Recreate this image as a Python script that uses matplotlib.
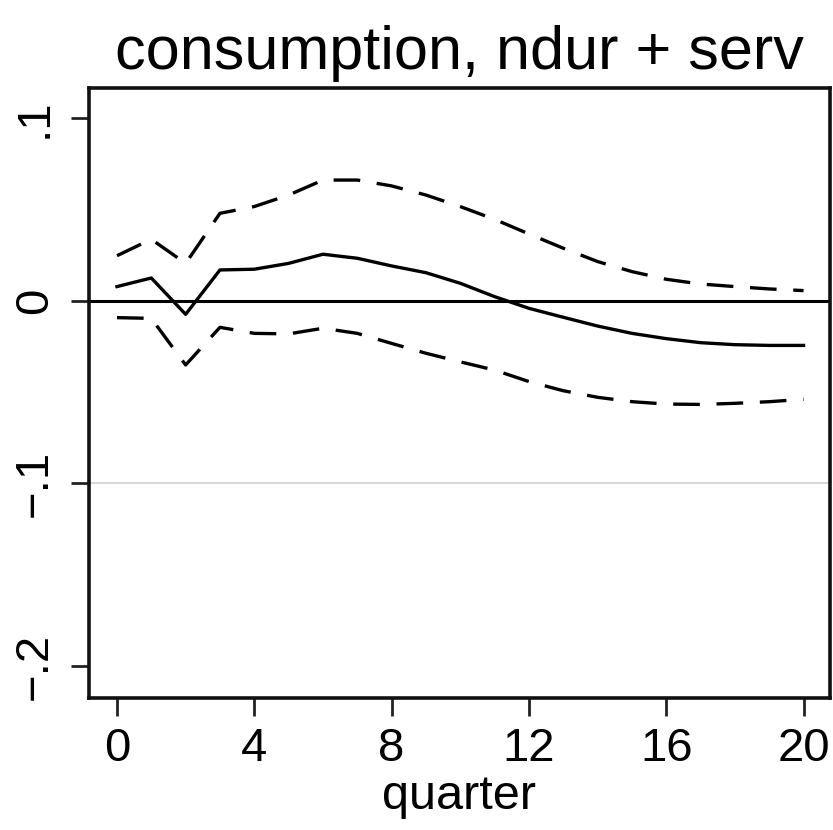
import matplotlib
matplotlib.use("Agg")
import matplotlib.pyplot as plt

quarters = list(range(21))
irf = [0.0077, 0.0124, -0.0075, 0.0168, 0.0172, 0.0204, 0.0254, 0.0232, 0.0190,
       0.0153, 0.0095, 0.0022, -0.0042, -0.0091, -0.0139, -0.0179, -0.0208,
       -0.0230, -0.0241, -0.0245, -0.0245]
upper = [0.0246, 0.0336, 0.0204, 0.0478, 0.0515, 0.0578, 0.0660, 0.0660, 0.0628,
         0.0578, 0.0515, 0.0445, 0.0365, 0.0287, 0.0214, 0.0159, 0.0117, 0.0091,
         0.0077, 0.0064, 0.0055]
lower = [-0.0093, -0.0097, -0.0352, -0.0146, -0.0179, -0.0182, -0.0151, -0.0179,
         -0.0234, -0.0288, -0.0335, -0.0380, -0.0443, -0.0493, -0.0529, -0.0553,
         -0.0566, -0.0568, -0.0562, -0.0553, -0.0540]

title = "consumption, ndur + serv"
xlabel = "quarter"
xticks = [0, 4, 8, 12, 16, 20]
yticks = [0.1, 0.0, -0.1, -0.2]
ytick_labels = [".1", "0", "\u2212.1", "\u2212.2"]

plt.rcParams["font.family"] = ["Liberation Sans", "DejaVu Sans"]

fig = plt.figure(figsize=(8.33, 8.30), dpi=100)
ax = fig.add_axes([0.1068, 0.159, 0.8896, 0.735])

ax.axhline(-0.1, color="#d0d0d0", lw=1.2, zorder=1)
ax.axhline(0.0, color="black", lw=2.2, zorder=2)

ax.plot(quarters, irf, color="black", lw=2.4, zorder=3)
for band in (upper, lower):
    ax.plot(quarters, band, color="black", lw=2.4, dashes=(8, 5), zorder=3)

ax.set_xlim(-0.816, 20.77)
ax.set_ylim(-0.2175, 0.1164)

ax.set_xticks(xticks)
ax.set_xticklabels([str(t) for t in xticks], fontsize=34)
ax.set_yticks(yticks)
ax.set_yticklabels(ytick_labels, fontsize=34, rotation=90, va="center")

ax.tick_params(axis="both", direction="out", length=13, width=2, color="#222222", pad=8)
ax.tick_params(axis="y", pad=10)

for sp in ax.spines.values():
    sp.set_linewidth(2.6)
    sp.set_color("#111111")

ax.set_xlabel(xlabel, fontsize=35, labelpad=2)
ax.set_title(title, fontsize=44, pad=14)

fig.savefig("out.png", dpi=100, facecolor="white")
